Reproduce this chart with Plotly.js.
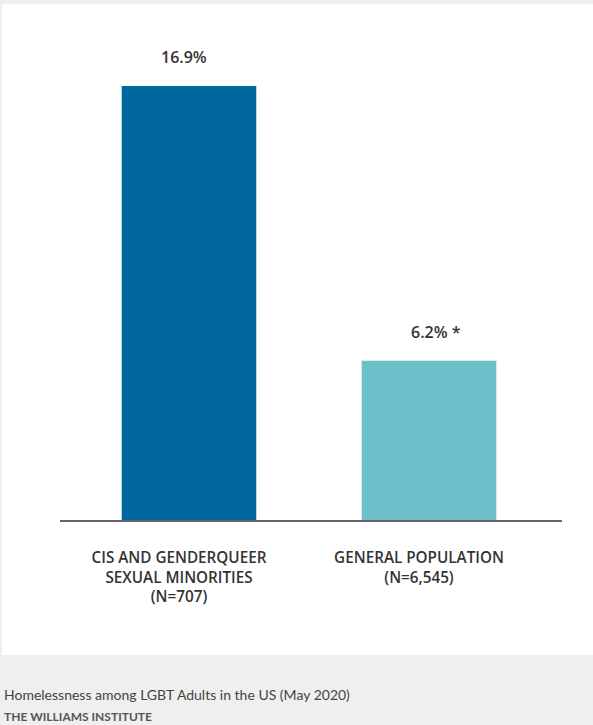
<!DOCTYPE html>
<html>
<head>
<meta charset="utf-8">
<script src="https://cdn.plot.ly/plotly-3.0.1.min.js"></script>
<style>
  html, body { margin: 0; padding: 0; background: #efefef; }
  #chart { width: 593px; height: 725px; }
</style>
</head>
<body>
<div id="chart"></div>
<script>
const categories = ['CIS AND GENDERQUEER<br>SEXUAL MINORITIES<br>(N=707)', 'GENERAL POPULATION<br>(N=6,545)'];
const values = [16.9, 6.2];
const valueLabels = ['16.9%', '6.2% *'];
const barColors = ['#00689f', '#6dbfca'];
const captionTitle = 'Homelessness among LGBT Adults in the US (May 2020)';
const captionSource = 'THE WILLIAMS INSTITUTE';

const labelFont = { family: '"Open Sans", sans-serif', size: 15.25, color: '#333333', weight: 600 };

const trace = {
  type: 'bar',
  x: categories,
  y: values,
  marker: { color: barColors, line: { width: 0 } },
  width: 0.5608,
  offset: -0.2388,
  hoverinfo: 'none'
};

const valueShifts = [5, 17];
const annotations = values.map((v, i) => ({
  x: categories[i], y: v, xref: 'x', yref: 'y',
  text: valueLabels[i], showarrow: false,
  xanchor: 'center', yanchor: 'bottom',
  xshift: valueShifts[i], yshift: 16,
  font: { family: '"Open Sans", sans-serif', size: 16, color: '#333333', weight: 600 }
}));

annotations.push({
  xref: 'paper', yref: 'paper', x: -0.1155, y: -0.357,
  xanchor: 'left', yanchor: 'middle', showarrow: false,
  text: captionTitle,
  font: { family: 'Lato, sans-serif', size: 14, color: '#444444' }
});
annotations.push({
  xref: 'paper', yref: 'paper', x: -0.1155, y: -0.402,
  xanchor: 'left', yanchor: 'middle', showarrow: false,
  text: captionSource,
  font: { family: 'Lato, sans-serif', size: 12, color: '#555555', weight: 700 }
});

const layout = {
  width: 593, height: 725,
  margin: { l: 60, r: 31, t: 30, b: 205, pad: 0 },
  paper_bgcolor: '#efefef',
  plot_bgcolor: 'rgba(0,0,0,0)',
  showlegend: false,
  xaxis: {
    type: 'category',
    range: [-0.4958, 1.5958],
    showline: true, linecolor: '#666666', linewidth: 1.5,
    ticks: '', showgrid: false, zeroline: false,
    tickfont: labelFont,
    ticklabelstandoff: 23,
    fixedrange: true
  },
  yaxis: {
    range: [0, 19.08],
    visible: false, showgrid: false, zeroline: false,
    fixedrange: true
  },
  shapes: [{
    type: 'rect', xref: 'paper', yref: 'paper', layer: 'below',
    x0: -0.1155, x1: 1.0618, y0: -0.2755, y1: 1.0531,
    fillcolor: '#ffffff', line: { width: 0 }
  }],
  annotations: annotations
};

Plotly.newPlot('chart', [trace], layout, { displayModeBar: false, staticPlot: true });
</script>
</body>
</html>
